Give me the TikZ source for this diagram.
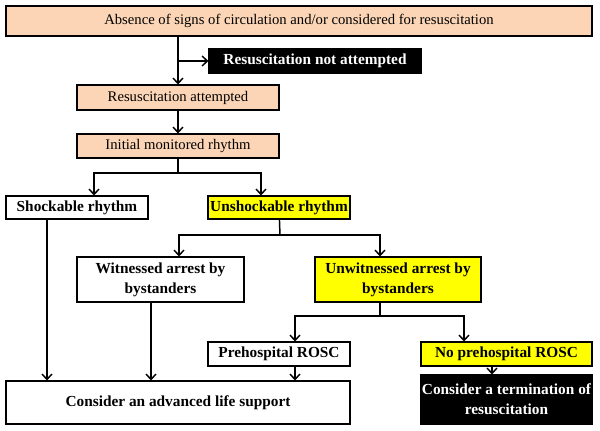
\documentclass[tikz,border=0pt]{standalone}
\usepackage{fontspec}
\setmainfont{Liberation Serif}
\usetikzlibrary{arrows.meta}
\definecolor{peach}{HTML}{FBD5B5}
\definecolor{hiyellow}{HTML}{FFFF00}
\tikzset{>={Straight Barb[length=4pt,width=7.5pt]}}
\tikzset{
  box/.style = {draw, line width=0.8pt, inner sep=1pt, align=center, font=\fontsize{11}{12}\selectfont},
  peachbox/.style = {box, fill=peach},
  whitebox/.style = {box, fill=white, font=\fontsize{11.5}{15}\selectfont\bfseries},
  yellowbox/.style = {whitebox, fill=hiyellow},
  blackbox/.style = {whitebox, fill=black, text=white},
  arr/.style = {->, line width=1.1pt},
  link/.style = {line width=1.1pt}
}

\begin{document}
\begin{tikzpicture}[x=0.75pt,y=-0.75pt]
  \useasboundingbox (0,0) rectangle (600,430);
  % boxes
  \node (top) at (299,21) [peachbox, minimum width=439.5pt, minimum height=22.5pt] {Absence of signs of circulation and/or considered for resuscitation};
  \node (notatt) at (315,61) [blackbox, minimum width=159pt, minimum height=18pt] {Resuscitation not attempted};
  \node (attempted) at (178,97.5) [peachbox, minimum width=151.5pt, minimum height=18.75pt] {Resuscitation attempted};
  \node (initial) at (178,146) [peachbox, minimum width=151.5pt, minimum height=18pt] {Initial monitored rhythm};
  \node (shock) at (77,207.5) [whitebox, minimum width=106.5pt, minimum height=17.25pt] {Shockable rhythm};
  \node (unshock) at (279,207.5) [yellowbox, minimum width=106.5pt, minimum height=17.25pt] {Unshockable rhythm};
  \node (witn) at (160.5,279.5) [whitebox, minimum width=125.25pt, minimum height=33.75pt] {Witnessed arrest by\\bystanders};
  \node (unwitn) at (398,279.5) [yellowbox, minimum width=124.5pt, minimum height=33.75pt] {Unwitnessed arrest by\\bystanders};
  \node (rosc) at (279,354) [whitebox, minimum width=106.5pt, minimum height=18pt] {Prehospital ROSC};
  \node (norosc) at (506.5,354) [yellowbox, minimum width=128.25pt, minimum height=18pt] {No prehospital ROSC};
  \node (als) at (178,402.5) [whitebox, minimum width=258pt, minimum height=32.25pt] {Consider an advanced life support};
  \node (term) at (506.5,399.5) [blackbox, minimum width=128.25pt, minimum height=36.75pt] {Consider a termination of\\resuscitation};
  % top trunk
  \draw[arr] (top.south -| attempted) -- (attempted);
  \draw[arr] (notatt.west -| attempted) -- (notatt);
  \draw[arr] (attempted) -- (initial);
  % split after initial rhythm
  \coordinate (s1) at (178,173);
  \draw[link] (initial) -- (s1);
  \draw[arr] (s1) -| (shock.north -| 94,0);
  \draw[arr] (s1) -| (unshock.north -| 261,0);
  % split after unshockable
  \coordinate (s2) at (280,235);
  \draw[link] (unshock) -- (s2);
  \draw[arr] (s2) -| (witn.north -| 179,0);
  \draw[arr] (s2) -| (unwitn.north -| 380,0);
  % split after unwitnessed
  \coordinate (s3) at (380,316);
  \draw[link] (unwitn.south -| s3) -- (s3);
  \draw[arr] (s3) -| (rosc.north -| 295,0);
  \draw[arr] (s3) -| (norosc.north -| 464,0);
  % into the last boxes
  \draw[arr] (shock.south -| 47,0) -- (als.north -| 47,0);
  \draw[arr] (witn.south -| 151,0) -- (als.north -| 151,0);
  \draw[arr] (rosc.south -| 295,0) -- (als.north -| 295,0);
  \draw[arr] (norosc.south -| 492,0) -- (term.north -| 492,0);
\end{tikzpicture}
\end{document}
